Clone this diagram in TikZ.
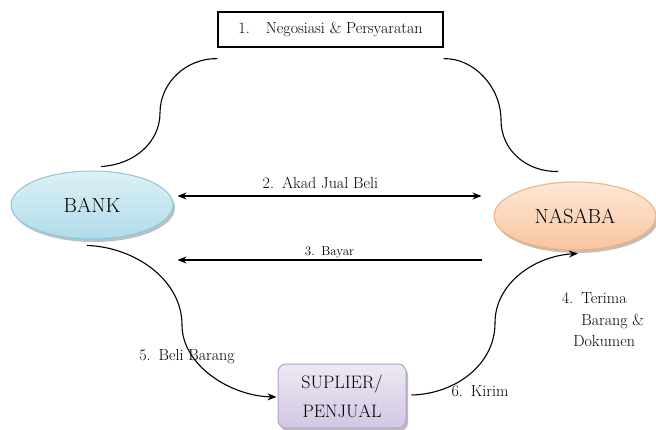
\documentclass[tikz,border=0pt]{standalone}
\usetikzlibrary{positioning, calc, shapes.geometric, shadows, arrows.meta}
\definecolor{banktop}{HTML}{DDF1F7}
\definecolor{bankbot}{HTML}{B0DBE8}
\definecolor{bankline}{HTML}{8CC8DA}
\definecolor{nastop}{HTML}{FDE8D8}
\definecolor{nasbot}{HTML}{F8C49E}
\definecolor{nasline}{HTML}{F2AE7C}
\definecolor{suptop}{HTML}{EEE9F4}
\definecolor{supbot}{HTML}{D3C6E3}
\definecolor{supline}{HTML}{B09FCB}
\tikzset{
  stepbox/.style={draw, line width=1.3pt, minimum width=225pt, minimum height=35pt,
    font=\fontsize{16}{19}\selectfont},
  party/.style={ellipse, line width=1pt, minimum width=162pt, minimum height=68pt,
    font=\fontsize{20.5}{23}\selectfont,
    drop shadow={shadow xshift=2pt, shadow yshift=-3pt, fill=black, opacity=.25}},
  bankstyle/.style={party, draw=bankline, top color=banktop, bottom color=bankbot},
  nasabastyle/.style={party, draw=nasline, top color=nastop, bottom color=nasbot},
  supbox/.style={rounded corners=8pt, line width=1pt, draw=supline, top color=suptop,
    bottom color=supbot, minimum width=128pt, minimum height=64pt, align=center,
    font=\fontsize{18}{29}\selectfont,
    drop shadow={shadow xshift=2pt, shadow yshift=-3pt, fill=black, opacity=.25}},
  flow/.style={line width=1.1pt},
  lbl/.style={font=\fontsize{16}{21.5}\selectfont}
}
\begin{document}
\begin{tikzpicture}[x=1pt, y=-1pt, >={Stealth[length=9pt,width=7pt]}]
\useasboundingbox (0,0) rectangle (656,430);
\draw   (330.5,29.5) node[stepbox](nego){1.\quad Negosiasi \& Persyaratan}
        (92,205) node[bankstyle](bank){BANK}
        (575,216) node[nasabastyle](nasaba){NASABA}
        (342,396) node[supbox](sup){SUPLIER/\\PENJUAL};
% negosiasi
\draw[flow] ([shift={(9,-4)}]bank.north) .. controls (133,165) and (160,143) .. (160,113)
            .. controls (160,82) and (187,58) .. ([shift={(0,11)}]nego.south west);
\draw[flow] ([shift={(0,11)}]nego.south east) .. controls (474,58) and (501,87) .. (501,120)
            .. controls (501,150) and (526,172) .. ([shift={(-17,-10)}]nasaba.north);
% akad dan bayar
\draw[flow,<->] ([shift={(4,-9)}]bank.east) -- node[lbl,above=3pt,pos=0.47]{2.\enspace Akad Jual Beli} ([shift={(-12,-20)}]nasaba.west);
\draw[flow,->] ([shift={(-12,44)}]nasaba.west) -- node[lbl,above=-2pt,font=\fontsize{13}{15}\selectfont]{3.\enspace Bayar} ([shift={(4,55)}]bank.east);
% beli dan kirim
\draw[flow,->] ([shift={(-5,6)}]bank.south) .. controls (135,247) and (182,280) .. (182,325)
            .. controls (182,365) and (230,396) .. ([shift={(-1,1)}]sup.west);
\draw[flow,->] ([shift={(5,-1)}]sup.east) .. controls (455,394) and (495,365) .. (495,323)
            .. controls (495,283) and (535,256) .. ([shift={(3,3)}]nasaba.south);
\node[lbl] (beli) at (187,357) {5.\enspace Beli Barang};
\node[lbl] (kirim) at (480,391) {6.\enspace Kirim};
\node[lbl, align=left] (terima) at (603,320) {4.\enspace Terima\\\hphantom{4.\enspace}Barang \&\\\hphantom{4.}Dokumen};
\end{tikzpicture}
\end{document}
